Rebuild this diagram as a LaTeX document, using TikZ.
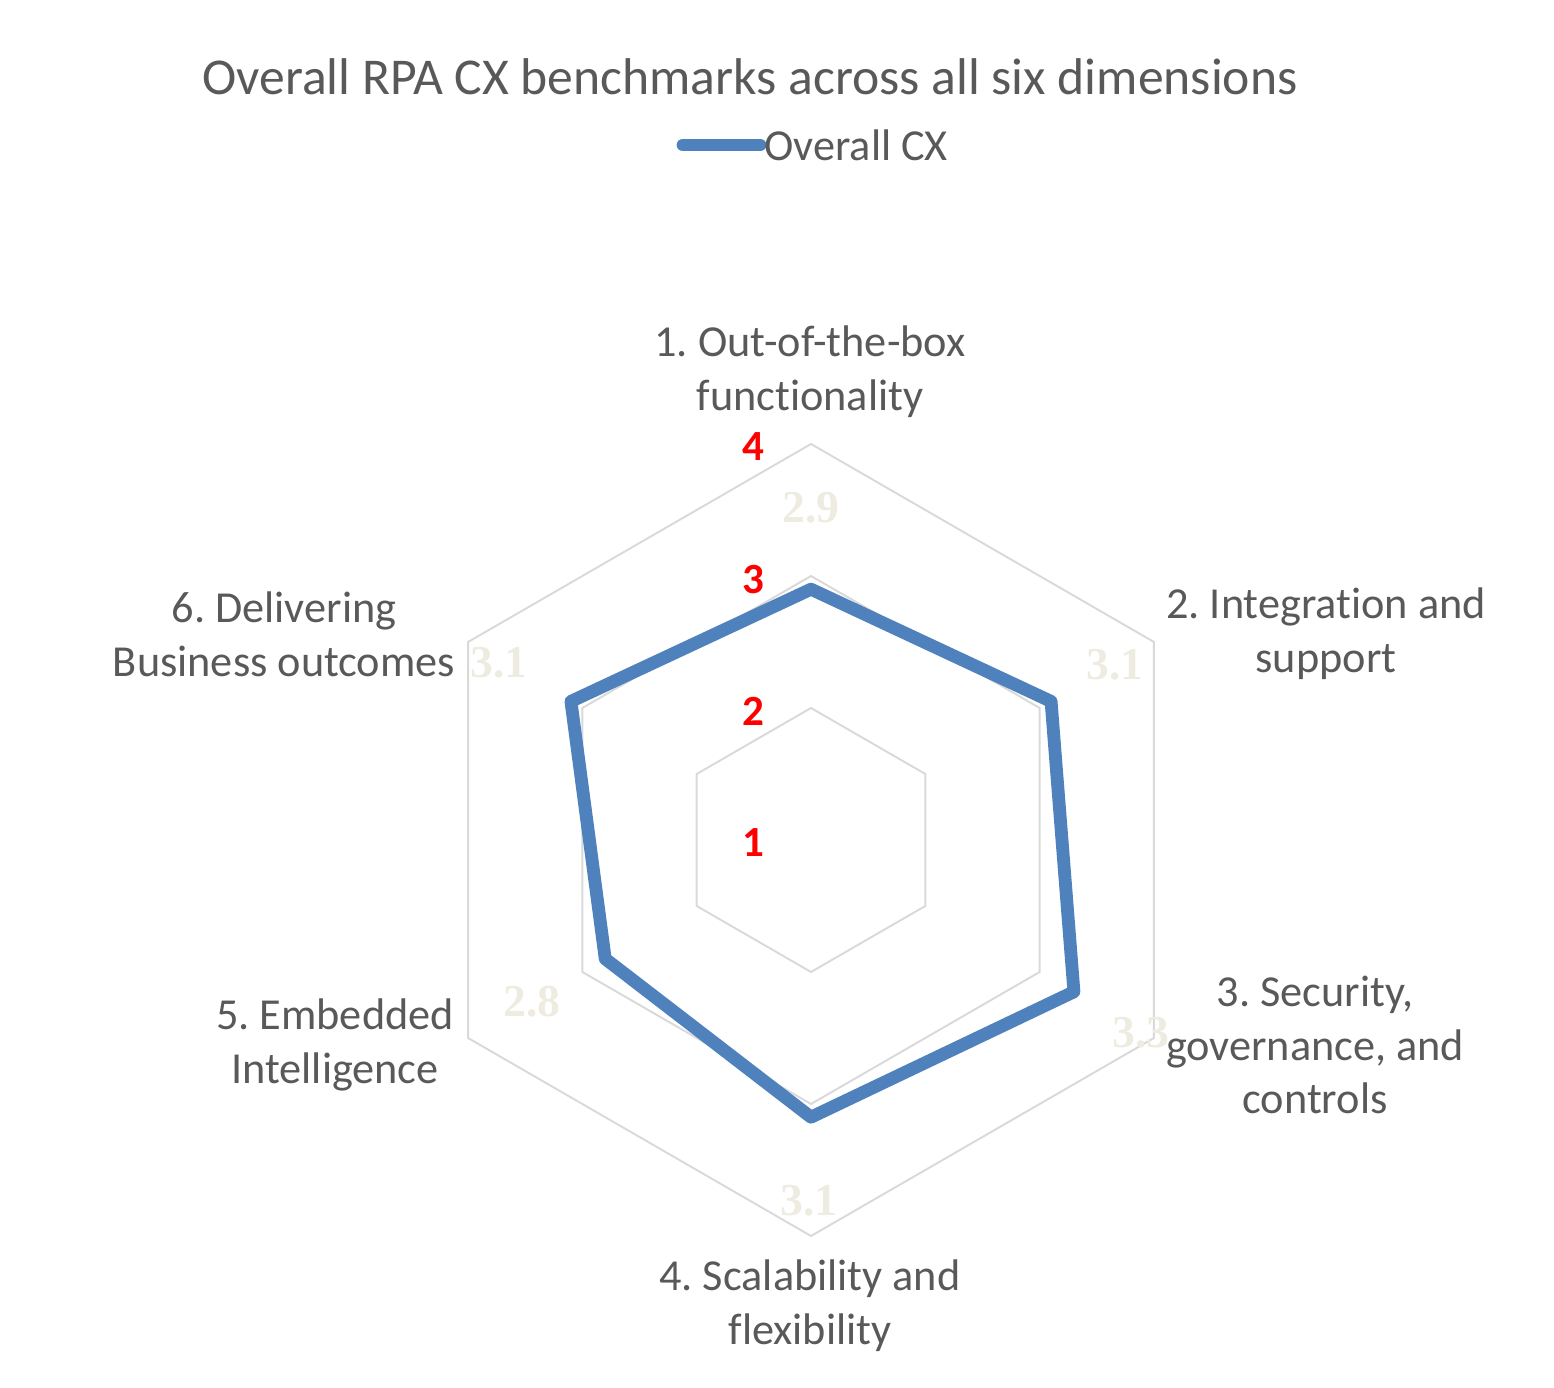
\documentclass[tikz,border=0pt]{standalone}
\usepackage{fontspec}
\setmainfont{Carlito}[Ligatures={NoCommon}]
\newfontfamily\labelserif{Liberation Serif}
\usetikzlibrary{positioning}
\definecolor{txtgray}{HTML}{595959}
\definecolor{gridgray}{HTML}{D9D9D9}
\definecolor{cxblue}{HTML}{4F81BD}
\definecolor{lblbeige}{HTML}{EEECE1}
\definecolor{tickred}{HTML}{FF0000}
\frenchspacing

\begin{document}
\begin{tikzpicture}[x=0.02cm,y=0.02cm,
    gridline/.style={draw=gridgray,line width=1.1pt,line join=miter},
    series/.style={draw=cxblue,line width=7.3pt,line join=round,line cap=round},
    axislabel/.style={text=txtgray,align=center,font={\fontsize{25.2}{30.6}\selectfont}},
    ticklabel/.style={text=tickred,font={\fontsize{24.5}{28}\selectfont\bfseries}},
    valuelabel/.style={text=lblbeige,font={\fontsize{26}{30}\selectfont\labelserif\bfseries}}]
  \useasboundingbox (0,0) rectangle (1554,1388);
  % title and legend
  \node[text=txtgray,font={\fontsize{29.4}{34}\selectfont}] (title) at (750,1311)
    {Overall RPA CX benchmarks across all six dimensions};
  \coordinate (legA) at (683,1243);
  \coordinate (legB) at (760,1243);
  \draw[series] (legA) -- (legB);
  \node[axislabel,anchor=west,inner sep=0pt] (legtext) at (764,1243) {Overall CX};
  % web
  \begin{scope}[shift={(811,548)}]
    \foreach \r in {1,2,3}
      \draw[gridline] (90:{\r*132}) -- (30:{\r*132}) -- (-30:{\r*132})
        -- (-90:{\r*132}) -- (-150:{\r*132}) -- (150:{\r*132}) -- cycle;
    \foreach \v [count=\i] in {2.9,3.1,3.3,3.1,2.8,3.1}
      \coordinate (p\i) at ({150-60*\i}:{(\v-1)*132});
    \draw[series] (p1) -- (p2) -- (p3) -- (p4) -- (p5) -- (p6) -- cycle;
  \end{scope}
  % scale
  \foreach \t/\y in {4/941,3/808,2/677,1/545}
    \node[ticklabel] (tick\t) at (753,\y) {\t};
  % values
  \node[valuelabel] (val1) at (811,880) {2.9};
  \node[valuelabel] (val2) at (1115,723) {3.1};
  \node[valuelabel] (val3) at (1141,355) {3.3};
  \node[valuelabel] (val4) at (809,187) {3.1};
  \node[valuelabel] (val5) at (532,386) {2.8};
  \node[valuelabel] (val6) at (499,725) {3.1};
  % categories
  \node[axislabel] (cat1) at (810,1016) {1. Out-of-the-box\\functionality};
  \node[axislabel] (cat2) at (1326,754) {2. Integration and\\support};
  \node[axislabel] (cat3) at (1315,343) {3. Security,\\governance, and\\controls};
  \node[axislabel] (cat4) at (810,82) {4. Scalability and\\flexibility};
  \node[axislabel] (cat5) at (335,343) {5. Embedded\\Intelligence};
  \node[axislabel] (cat6) at (284,754) {6. Delivering\\Business outcomes};
\end{tikzpicture}
\end{document}
